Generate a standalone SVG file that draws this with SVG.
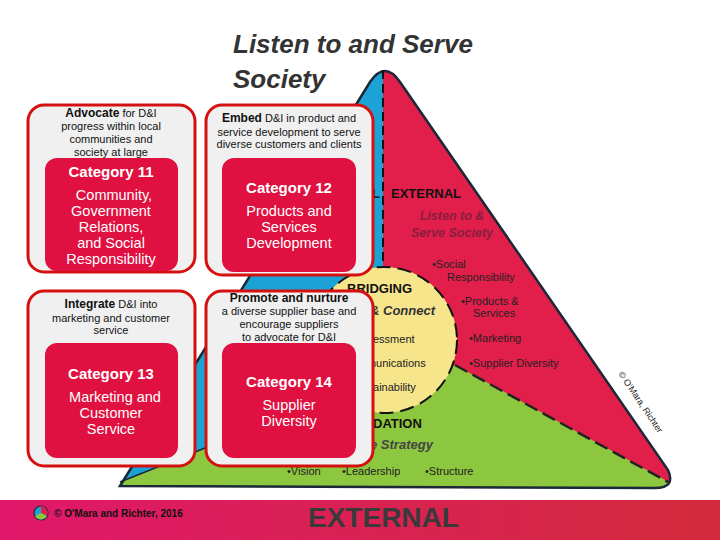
<svg xmlns="http://www.w3.org/2000/svg" width="720" height="540" viewBox="0 0 720 540">
<defs>
<linearGradient id="bar" x1="0" x2="1"><stop offset="0" stop-color="#E0186A"/><stop offset="1" stop-color="#D32A3C"/></linearGradient>
<clipPath id="tri"><path d="M120,486 L370,82 Q385,60 400,82 L668,470 Q676,488 655,488 Z"/></clipPath>
<style>
text{font-family:"Liberation Sans",Arial,sans-serif}
.box{fill:#f0f0f0;stroke:#d41010;stroke-width:3}
.in{fill:#E01040}
.h{fill:#fff;font-size:15px;font-weight:bold;text-anchor:middle}
.w{fill:#fff;font-size:14.5px;text-anchor:middle}
.d{fill:#111;font-size:11px;text-anchor:middle}
.b{font-weight:bold;font-size:12px}
.t{fill:#222;font-size:11px}
.k{fill:#111;font-size:13px;font-weight:bold}
</style>
</defs>
<rect width="720" height="540" fill="#fff"/>
<g id="pyramid">
<g clip-path="url(#tri)">
<rect width="720" height="540" fill="#E21E4A"/>
<polygon points="0,0 383,0 383,338 330,398 0,530" fill="#1BA3D6"/>
<polygon points="0,530 330,398 384,405 455,365 720,510 720,540 0,540" fill="#8DC63F"/>
</g>
<path d="M120,486 L370,82 Q385,60 400,82 L668,470 Q676,488 655,488 Z" fill="none" stroke="#1a2838" stroke-width="2.5"/>
<line x1="383" y1="70" x2="383" y2="268" stroke="#111" stroke-width="2" stroke-dasharray="9,5"/>
<line x1="455" y1="365" x2="668" y2="482" stroke="#222" stroke-width="2.5" stroke-dasharray="14,6"/>
<line x1="330" y1="398" x2="120" y2="482" stroke="#1a2838" stroke-width="1.5"/>
<circle cx="384" cy="340" r="73" fill="#F7E58C" stroke="#111" stroke-width="2" stroke-dasharray="14,7"/>
</g>
<g id="pyramid-text">
<text x="372" y="198" class="k">L</text>
<text x="391" y="198" class="k">EXTERNAL</text>
<text x="452" y="220" text-anchor="middle" font-size="12.5" font-weight="bold" font-style="italic" fill="#8a1d40">Listen to &amp;</text>
<text x="452" y="237" text-anchor="middle" font-size="12.5" font-weight="bold" font-style="italic" fill="#8a1d40">Serve Society</text>
<text x="432" y="268" class="t">•Social</text>
<text x="447" y="281" class="t">Responsibility</text>
<text x="461" y="305" class="t">•Products &amp;</text>
<text x="473" y="317" class="t">Services</text>
<text x="469" y="342" class="t">•Marketing</text>
<text x="469" y="367" class="t">•Supplier Diversity</text>
<text x="347" y="293" class="k">BRIDGING</text>
<text x="370" y="315" font-size="13" font-weight="bold" font-style="italic" fill="#333">&amp; Connect</text>
<text x="373" y="343" class="t">essment</text>
<text x="370" y="367" class="t">nunications</text>
<text x="370" y="391" class="t">tainability</text>
<text x="373" y="428" class="k">DATION</text>
<text x="370" y="449" font-size="13" font-weight="bold" font-style="italic" fill="#444">e Strategy</text>
<text x="287" y="475" class="t">•Vision</text>
<text x="342" y="475" class="t">•Leadership</text>
<text x="425" y="475" class="t">•Structure</text>
<text transform="translate(618,374) rotate(56)" font-size="9" fill="#222">© O'Mara, Richter</text>
</g>
<text x="233" y="53" font-size="26" font-weight="bold" font-style="italic" fill="#333">Listen to and Serve</text>
<text x="233" y="88" font-size="26" font-weight="bold" font-style="italic" fill="#333">Society</text>
<g id="box11">
<rect x="28" y="105" width="167" height="167" rx="16" class="box"/>
<text x="111" y="117" class="d"><tspan class="b">Advocate</tspan> for D&amp;I</text>
<text x="111" y="130" class="d">progress within local</text>
<text x="111" y="143" class="d">communities and</text>
<text x="111" y="156" class="d">society at large</text>
<rect x="45" y="158" width="133" height="113" rx="12" class="in"/>
<text x="111" y="177" class="h">Category 11</text>
<text x="114" y="200" class="w">Community,</text>
<text x="111" y="216" class="w">Government</text>
<text x="111" y="232" class="w">Relations,</text>
<text x="111" y="248" class="w">and Social</text>
<text x="111" y="264" class="w">Responsibility</text>
</g>
<g id="box12">
<rect x="206" y="105" width="167" height="170" rx="16" class="box"/>
<text x="289" y="122" class="d"><tspan class="b">Embed</tspan> D&amp;I in product and</text>
<text x="289" y="136" class="d">service development to serve</text>
<text x="289" y="148" class="d">diverse customers and clients</text>
<rect x="222" y="158" width="134" height="114" rx="12" class="in"/>
<text x="289" y="193" class="h">Category 12</text>
<text x="289" y="216" class="w">Products and</text>
<text x="289" y="232" class="w">Services</text>
<text x="289" y="248" class="w">Development</text>
</g>
<g id="box13">
<rect x="28" y="291" width="167" height="175" rx="16" class="box"/>
<text x="111" y="308" class="d"><tspan class="b">Integrate</tspan> D&amp;I into</text>
<text x="111" y="322" class="d">marketing and customer</text>
<text x="111" y="334" class="d">service</text>
<rect x="45" y="343" width="133" height="115" rx="12" class="in"/>
<text x="111" y="379" class="h">Category 13</text>
<text x="115" y="402" class="w">Marketing and</text>
<text x="111" y="418" class="w">Customer</text>
<text x="111" y="434" class="w">Service</text>
</g>
<g id="box14">
<rect x="206" y="291" width="167" height="175" rx="16" class="box"/>
<text x="289" y="302" class="d"><tspan class="b">Promote and nurture</tspan></text>
<text x="289" y="315" class="d">a diverse supplier base and</text>
<text x="289" y="328" class="d">encourage suppliers</text>
<text x="289" y="341" class="d">to advocate for D&amp;I</text>
<rect x="222" y="343" width="134" height="115" rx="12" class="in"/>
<text x="289" y="387" class="h">Category 14</text>
<text x="289" y="410" class="w">Supplier</text>
<text x="289" y="426" class="w">Diversity</text>
</g>
<g id="footer">
<rect x="0" y="500" width="720" height="40" fill="url(#bar)"/>
<circle cx="41" cy="513" r="7" fill="#1BA3D6" stroke="#1a2838" stroke-width="1.2"/>
<path d="M41,513 L41,506 A7,7 0 0 1 47,516 Z" fill="#E21E4A"/>
<path d="M41,513 L47,516 A7,7 0 0 1 35,516 Z" fill="#8DC63F"/>
<text x="54" y="517" font-size="10" font-weight="bold" fill="#111">© O'Mara and Richter, 2016</text>
<text x="308" y="527" font-size="28" font-weight="bold" fill="#3a3a3a">EXTERNAL</text>
</g>
</svg>
